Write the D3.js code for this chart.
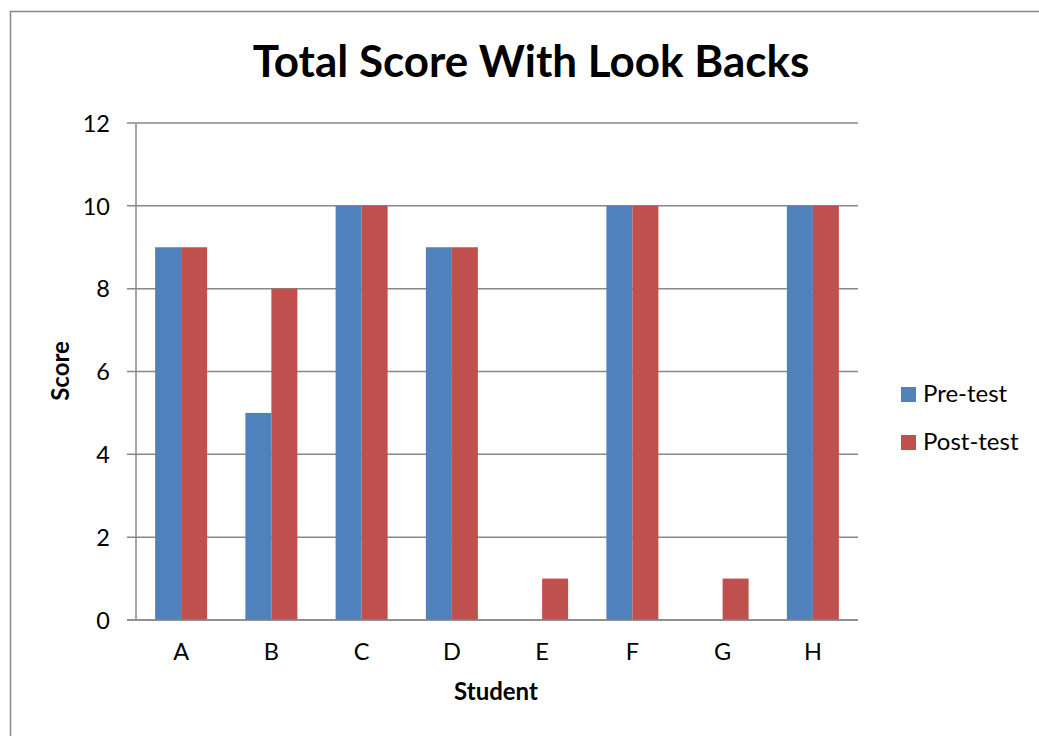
<!DOCTYPE html>
<html>
  <head>
    <meta charset="utf-8">
    <title>Total Score With Look Backs</title>
    <script src="https://d3js.org/d3.v7.min.js"></script>
    <style>
      body { margin: 0; background: #fff; }
      text { font-family: Lato, "Open Sans", sans-serif; fill: #000; }
    </style>
  </head>
  <body>
    <svg width="1039" height="736"></svg>
    <script>
      var students = ["A", "B", "C", "D", "E", "F", "G", "H"];
      var seriesNames = ["Pre-test", "Post-test"];
      var preTest = [9, 5, 10, 9, 0, 10, 0, 10];
      var postTest = [9, 8, 10, 9, 1, 10, 1, 10];
      var yTicks = [0, 2, 4, 6, 8, 10, 12];
      var colors = ["#4f81bd", "#c0504d"];

      var svg = d3.select("svg");
      var margin = {top: 123, right: 181, bottom: 116, left: 136},
          width = 1039 - margin.left - margin.right,
          height = 736 - margin.top - margin.bottom;

      // outer frame
      svg.append("rect")
          .attr("x", 10.5).attr("y", 11.5)
          .attr("width", 1040).attr("height", 740)
          .attr("fill", "none")
          .attr("stroke", "#888")
          .attr("stroke-width", 1.5);

      var g = svg.append("g").attr("transform", "translate(" + margin.left + "," + margin.top + ")");

      var x = d3.scaleBand().domain(students).range([0, width]);
      var x1 = d3.scaleBand().domain(seriesNames).range([0, 52]);
      var y = d3.scaleLinear().domain([0, 12]).range([height, 0]);

      // gridlines
      g.selectAll(".grid")
          .data(yTicks)
        .enter().append("line")
          .attr("x1", -9).attr("x2", width)
          .attr("y1", function(d) { return y(d); })
          .attr("y2", function(d) { return y(d); })
          .attr("stroke", "#888")
          .attr("stroke-width", 1.5);

      g.append("line")
          .attr("x1", 0).attr("x2", 0)
          .attr("y1", 0).attr("y2", height)
          .attr("stroke", "#888")
          .attr("stroke-width", 1.5);

      var yAxis = g.append("g")
          .call(d3.axisLeft(y).tickValues(yTicks).tickSize(0).tickPadding(26));
      yAxis.select(".domain").remove();
      yAxis.selectAll("text")
          .style("font-size", "23.5px")
          .style("font-family", "Lato, sans-serif")
          .attr("dy", "0.35em");

      var xAxis = g.append("g")
          .attr("transform", "translate(0," + height + ")")
          .call(d3.axisBottom(x).tickSize(0).tickPadding(23));
      xAxis.select(".domain").remove();
      xAxis.selectAll("text")
          .style("font-size", "23.5px")
          .style("font-family", "Lato, sans-serif");

      var rows = students.map(function(s, i) {
        return {student: s, values: [preTest[i], postTest[i]]};
      });

      var groups = g.selectAll(".group")
          .data(rows)
        .enter().append("g")
          .attr("transform", function(d) { return "translate(" + (x(d.student) + x.bandwidth() / 2 - 26) + ",0)"; });

      groups.selectAll("rect")
          .data(function(d) { return d.values.map(function(v, k) { return {key: seriesNames[k], value: v, k: k}; }); })
        .enter().append("rect")
          .attr("x", function(d) { return x1(d.key); })
          .attr("width", x1.bandwidth())
          .attr("y", function(d) { return y(d.value); })
          .attr("height", function(d) { return height - y(d.value); })
          .attr("fill", function(d) { return colors[d.k]; });

      // redraw baseline over bars
      g.append("line")
          .attr("x1", -9).attr("x2", width)
          .attr("y1", height).attr("y2", height)
          .attr("stroke", "#888")
          .attr("stroke-width", 1.5);

      svg.append("text")
          .attr("x", 531).attr("y", 77)
          .attr("text-anchor", "middle")
          .style("font-size", "44px")
          .style("font-weight", "bold")
          .text("Total Score With Look Backs");

      svg.append("text")
          .attr("x", 496).attr("y", 700)
          .attr("text-anchor", "middle")
          .style("font-size", "24px")
          .style("font-weight", "bold")
          .text("Student");

      svg.append("text")
          .attr("transform", "translate(69,371) rotate(-90)")
          .attr("text-anchor", "middle")
          .style("font-size", "24px")
          .style("font-weight", "bold")
          .text("Score");

      var legend = svg.selectAll(".legend")
          .data(seriesNames)
        .enter().append("g")
          .attr("transform", function(d, i) { return "translate(901," + (387 + i * 48) + ")"; });

      legend.append("rect")
          .attr("width", 15).attr("height", 15)
          .attr("fill", function(d, i) { return colors[i]; });

      legend.append("text")
          .attr("x", 22).attr("y", 15)
          .style("font-size", "24px")
          .text(function(d) { return d; });
    </script>
  </body>
</html>
